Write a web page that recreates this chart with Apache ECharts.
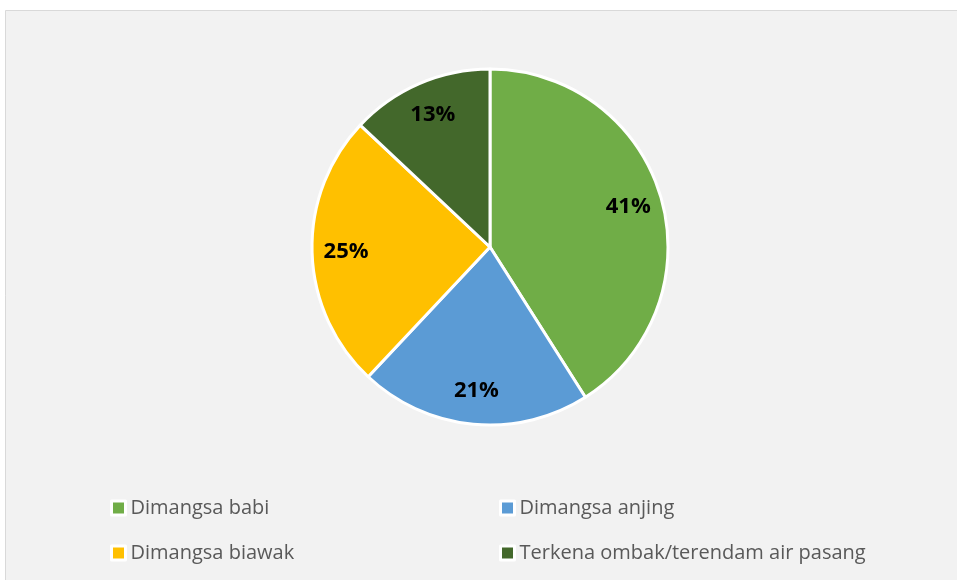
<!DOCTYPE html>
<html>
<head>
<meta charset="utf-8">
<script src="https://cdn.jsdelivr.net/npm/echarts@6/dist/echarts.min.js"></script>
<style>
	html, body { margin: 0; padding: 0; background: #fff; }
	#chart { width: 957px; height: 580px; }
</style>
</head>
<body>
<div id="chart"></div>
<script>
var categories = ["Dimangsa babi", "Dimangsa anjing", "Dimangsa biawak", "Terkena ombak/terendam air pasang"];
var values = [41, 21, 25, 13];
var colors = ["#70ad47", "#5b9bd5", "#ffc000", "#43682b"];

var pieData = [];
for (var i = 0; i < categories.length; i++) {
	pieData.push({ name: categories[i], value: values[i], itemStyle: { color: colors[i] } });
}
// same slices again, transparent, only to carry the labels further out
var labelData = [];
for (var i = 0; i < categories.length; i++) {
	labelData.push({ name: categories[i], value: values[i], itemStyle: { color: "rgba(0,0,0,0)" } });
}

var legendText = {
	color: "#595959",
	fontSize: 20,
	lineHeight: 20,
	fontFamily: "Open Sans"
};

function makeLegend(left, names) {
	return {
		orient: "vertical",
		left: left,
		top: 498,
		padding: 0,
		itemGap: 25,
		itemWidth: 14,
		itemHeight: 14,
		icon: "rect",
		itemStyle: { borderColor: "#fff", borderWidth: 3 },
		textStyle: legendText,
		data: names
	};
}

var option = {
	animation: false,
	graphic: [{
		type: "rect",
		z: -10,
		shape: { x: 5.5, y: 10.5, width: 960, height: 580 },
		style: { fill: "#f2f2f2", stroke: "#d9d9d9", lineWidth: 1 }
	}],
	legend: [
		makeLegend(110, [categories[0], categories[2]]),
		makeLegend(499, [categories[1], categories[3]])
	],
	series: [{
		type: "pie",
		center: [490, 247],
		radius: [0, 178],
		startAngle: 90,
		clockwise: true,
		silent: true,
		label: { show: false },
		labelLine: { show: false },
		itemStyle: { borderColor: "#fff", borderWidth: 3 },
		data: pieData
	}, {
		type: "pie",
		center: [490, 247],
		radius: [104, 178],
		startAngle: 90,
		clockwise: true,
		silent: true,
		legendHoverLink: false,
		label: {
			show: true,
			position: "inside",
			formatter: "{d}%",
			color: "#000",
			fontSize: 22,
			fontWeight: "bold",
			fontFamily: "Open Sans"
		},
		labelLine: { show: false },
		data: labelData
	}]
};

var chart = echarts.init(document.getElementById("chart"));
chart.setOption(option);
</script>
</body>
</html>
